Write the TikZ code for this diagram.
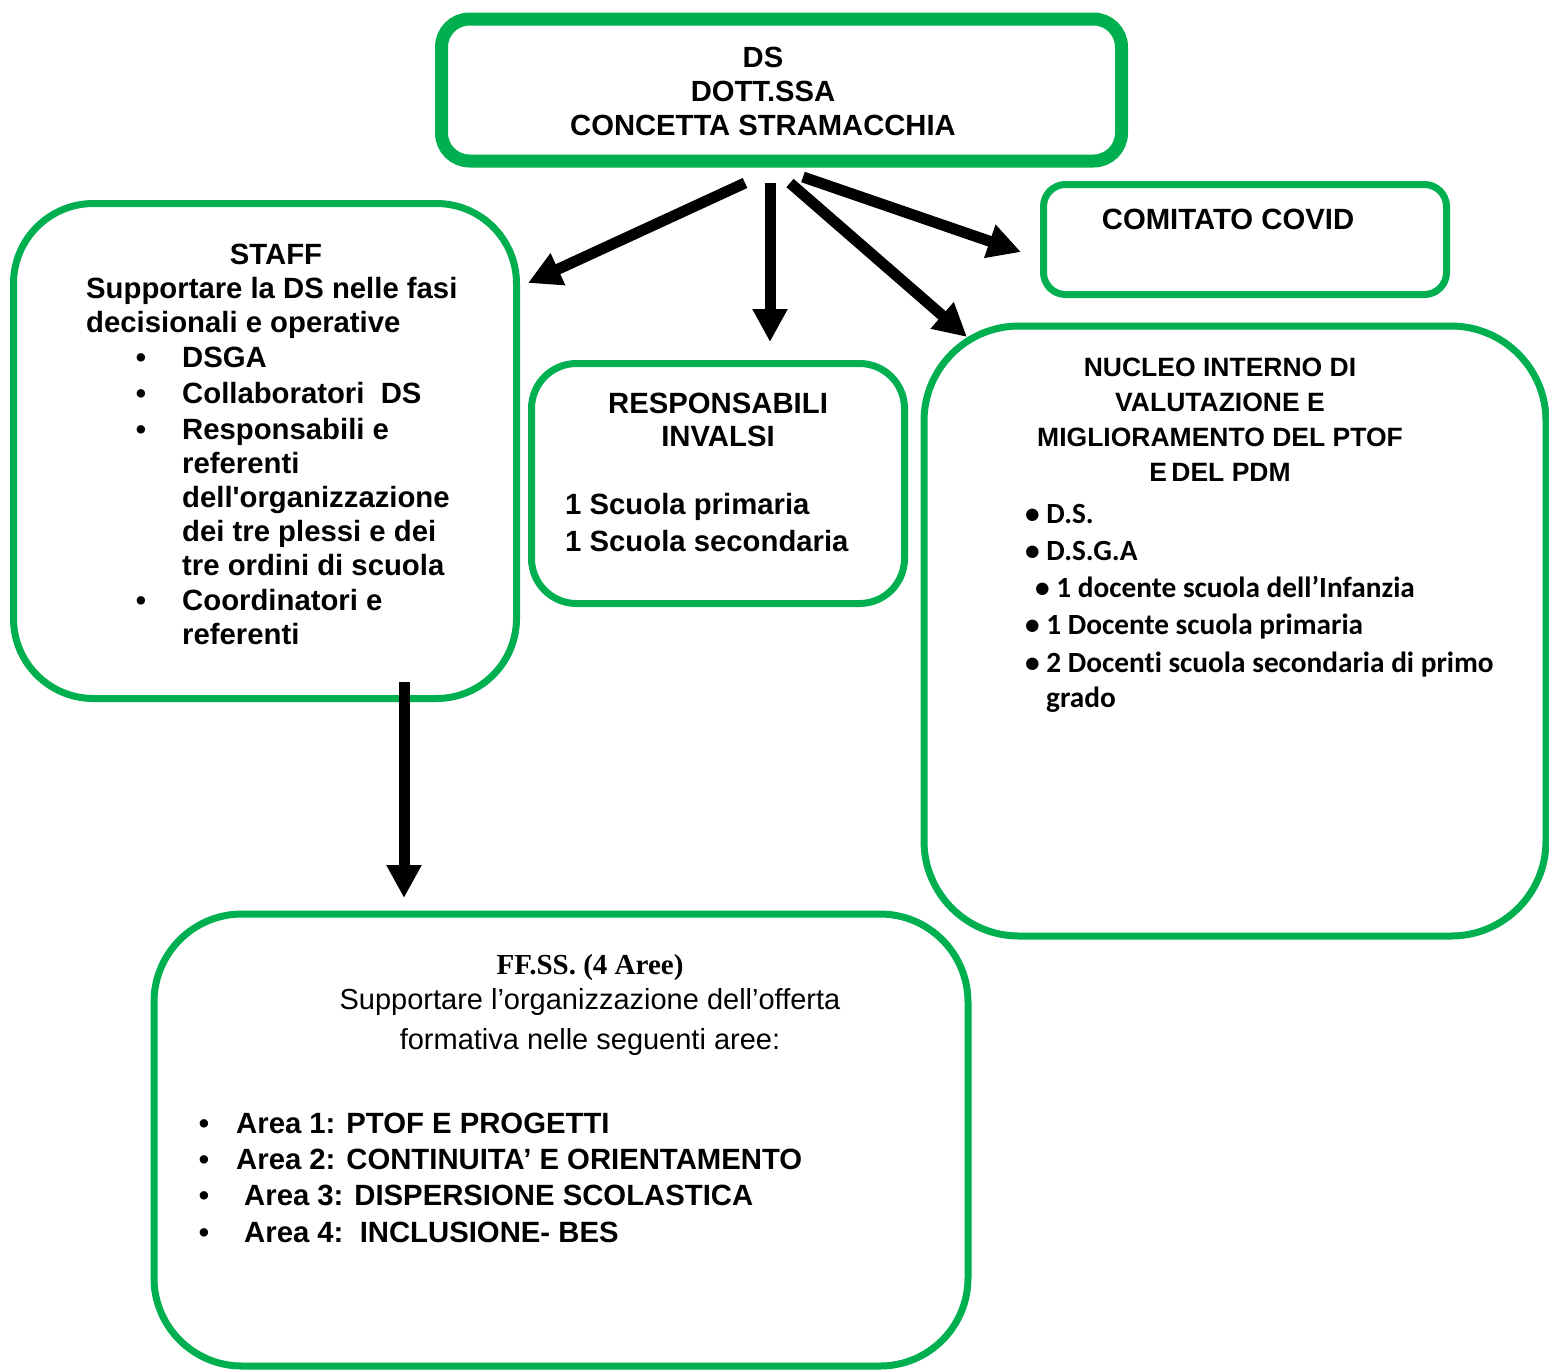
\documentclass[tikz,border=0pt]{standalone}
\usepackage{fontspec}
\setmainfont{Liberation Sans}
\newfontfamily\carl[Ligatures=NoCommon]{Carlito}
\newfontfamily\tnr{Liberation Serif}
\usetikzlibrary{arrows.meta}
\definecolor{ogreen}{RGB}{0,176,80}
\tikzset{
  box/.style={draw=ogreen, line width=7pt, inner sep=0pt, minimum width=#1},
  arr/.style={draw=black, line width=11pt, -{Triangle[length=33pt,width=33pt]}},
  bt/.style={inner sep=0pt, font=\bfseries\fontsize{29.3}{34}\selectfont},
  hd/.style={inner sep=0pt, font=\bfseries\fontsize{26.5}{32}\selectfont},
  cb/.style={inner sep=0pt, anchor=base west, font=\carl\bfseries\fontsize{29.3}{34}\selectfont},
  rt/.style={inner sep=0pt, font=\fontsize{29}{34}\selectfont},
}
\begin{document}
\begin{tikzpicture}[x=1pt,y=-1pt]
\useasboundingbox (0,0) rectangle (1549,1369);
\fill[white] (0,0) rectangle (1549,1369);

% ---- boxes ----
\node[box=680pt, line width=13pt, minimum height=142pt, rounded corners=28pt] (ds) at (781.5,90) {};
\node[box=503pt, minimum height=495pt, rounded corners=80pt] (staff) at (265,451) {};
\node[box=373pt, minimum height=240pt, rounded corners=45pt] (resp) at (718,483.5) {};
\node[box=403pt, minimum height=110pt, rounded corners=22pt] (covid) at (1245,239.5) {};
\node[box=622pt, minimum height=610pt, rounded corners=95pt] (nucleo) at (1235,631) {};
\node[box=814pt, minimum height=452pt, rounded corners=88pt] (ffss) at (561,1140) {};

% ---- DS text ----
\begin{scope}[every node/.style={bt, anchor=base, font=\bfseries\fontsize{29.2}{34}\selectfont}]
\node (ds1) at (763,67) {DS};
\node (ds2) at (763,101) {DOTT.SSA};
\node (ds3) at (763,135) {CONCETTA STRAMACCHIA};
\end{scope}

% ---- STAFF text ----
\node[bt, anchor=base] (st0) at (276,264) {STAFF};
\node[bt, anchor=base west] (st1) at (86,298) {Supportare la DS nelle fasi};
\node[bt, anchor=base west] (st2) at (86,332) {decisionali e operative};
\foreach \y/\t [count=\i] in {367/DSGA, 403/{Collaboratori\ \ DS}, 439/{Responsabili e}, 473/referenti,
  507/{dell\textquotesingle organizzazione}, 541/{dei tre plessi e dei}, 575/{tre ordini di scuola},
  610/{Coordinatori e}, 644/referenti}
  \node[bt, anchor=base west] (sti\i) at (182,\y) {\t};
\foreach \y [count=\i] in {367,403,439,610}
  \node[bt, anchor=base] (stb\i) at (141,\y) {•};

% ---- RESPONSABILI text ----
\node[bt, anchor=base] (rs1) at (718,413) {RESPONSABILI};
\node[bt, anchor=base] (rs2) at (718,446) {INVALSI};
\node[bt, anchor=base west] (rs3) at (565,514) {1 Scuola primaria};
\node[bt, anchor=base west] (rs4) at (565,551) {1 Scuola secondaria};

% ---- COMITATO COVID ----
\node[bt, anchor=base] (cv1) at (1228,229) {COMITATO COVID};

% ---- NUCLEO ----
\node[hd, anchor=base] (nu1) at (1220,376) {NUCLEO INTERNO DI};
\node[hd, anchor=base] (nu2) at (1220,411) {VALUTAZIONE E};
\node[hd, anchor=base] (nu3) at (1220,446) {MIGLIORAMENTO DEL PTOF};
\node[hd, anchor=base] (nu4) at (1220,481) {E\,DEL PDM};
\node[cb] (nb1) at (1025,523) {• D.S.};
\node[cb] (nb2) at (1025,560) {• D.S.G.A};
\node[cb] (nb3) at (1035,597) {• 1 docente scuola dell’Infanzia};
\node[cb] (nb4) at (1025,634) {• 1 Docente scuola primaria};
\node[cb] (nb5) at (1025,672) {• 2 Docenti scuola secondaria di primo};
\node[cb] (nb6) at (1046,707) {grado};

% ---- FF.SS ----
\node[inner sep=0pt, anchor=base, font=\tnr\bfseries\fontsize{29}{34}\selectfont] (ff1) at (590,974) {FF.SS. (4 Aree)};
\node[rt, anchor=base] (ff2) at (590,1009) {Supportare l’organizzazione dell’offerta};
\node[rt, anchor=base] (ff3) at (590,1049) {formativa nelle seguenti aree:};
\foreach \y/\x/\t [count=\i] in {1133/236/{Area 1: PTOF E PROGETTI}, 1169/236/{Area 2: CONTINUITA’ E ORIENTAMENTO},
  1205/244/{Area 3: DISPERSIONE SCOLASTICA}, 1242/244/{Area 4:\ \ INCLUSIONE- BES}}
  {\node[bt, anchor=base west] (fa\i) at (\x,\y) {\t};
   \node[bt, anchor=base] (fb\i) at (204,\y) {•};}

% ---- connectors ----
\coordinate (o1) at (745,183);
\coordinate (o2) at (770,183);
\coordinate (o3) at (790,183);
\coordinate (o4) at (803,177);
\coordinate (t1) at (528,283);
\coordinate (t2) at (770,342);
\coordinate (t3) at (967,337);
\coordinate (t4) at (1021,252);
\coordinate (o5) at (404,682);
\coordinate (t5) at (404,898);
\draw[arr] (o1) -- (t1);
\draw[arr] (o2) -- (t2);
\draw[arr] (o3) -- (t3);
\draw[arr] (o4) -- (t4);
\draw[arr] (o5) -- (t5);
\end{tikzpicture}
\end{document}
